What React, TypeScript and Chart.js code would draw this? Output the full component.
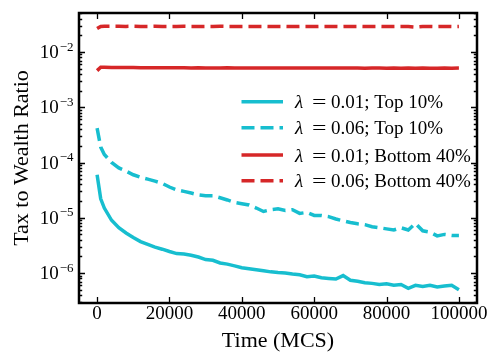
import React, { useEffect, useRef } from 'react';
import { Chart, registerables } from 'chart.js';

Chart.register(...registerables);

const FONT = '"Liberation Serif", "Times New Roman", Times, serif';

const timeSteps = [0, 1000, 2000, 4000, 6000, 8000, 10000, 12000, 14000, 16000, 18000, 20000, 22000, 24000, 26000, 28000, 30000, 32000, 34000, 36000, 38000, 40000, 42000, 44000, 46000, 48000, 50000, 52000, 54000, 56000, 58000, 60000, 62000, 64000, 66000, 68000, 70000, 72000, 74000, 76000, 78000, 80000, 82000, 84000, 86000, 88000, 90000, 92000, 94000, 96000, 98000, 100000];

const top10Lambda001 = [6.0e-5, 2.2e-5, 1.5e-5, 9.0e-6, 6.6e-6, 5.3e-6, 4.4e-6, 3.7e-6, 3.3e-6, 2.95e-6, 2.7e-6, 2.45e-6, 2.25e-6, 2.2e-6, 2.1e-6, 1.95e-6, 1.75e-6, 1.7e-6, 1.52e-6, 1.45e-6, 1.35e-6, 1.25e-6, 1.2e-6, 1.15e-6, 1.1e-6, 1.05e-6, 1.02e-6, 1.0e-6, 0.96e-6, 0.93e-6, 0.86e-6, 0.88e-6, 0.82e-6, 0.8e-6, 0.78e-6, 0.9e-6, 0.74e-6, 0.71e-6, 0.67e-6, 0.65e-6, 0.62e-6, 0.64e-6, 0.6e-6, 0.62e-6, 0.53e-6, 0.6e-6, 0.57e-6, 0.6e-6, 0.56e-6, 0.58e-6, 0.6e-6, 0.5e-6];

const top10Lambda006 = [4.2e-4, 1.9e-4, 1.4e-4, 1.0e-4, 8.0e-5, 7.0e-5, 6.0e-5, 5.4e-5, 5.0e-5, 4.6e-5, 4.2e-5, 3.6e-5, 3.2e-5, 3.0e-5, 2.8e-5, 2.6e-5, 2.5e-5, 2.5e-5, 2.3e-5, 2.1e-5, 1.9e-5, 1.8e-5, 1.7e-5, 1.5e-5, 1.3e-5, 1.4e-5, 1.45e-5, 1.35e-5, 1.4e-5, 1.2e-5, 1.25e-5, 1.1e-5, 1.1e-5, 1.05e-5, 9.5e-6, 8.8e-6, 8.2e-6, 7.8e-6, 7.5e-6, 6.9e-6, 6.6e-6, 6.3e-6, 6.0e-6, 6.6e-6, 6.0e-6, 7.9e-6, 5.8e-6, 5.5e-6, 4.7e-6, 5.0e-6, 4.8e-6, 4.8e-6];

const bottom40Lambda001 = [4.6e-3, 5.3e-3, 5.28e-3, 5.25e-3, 5.25e-3, 5.22e-3, 5.22e-3, 5.2e-3, 5.2e-3, 5.2e-3, 5.18e-3, 5.18e-3, 5.2e-3, 5.18e-3, 5.15e-3, 5.18e-3, 5.15e-3, 5.15e-3, 5.15e-3, 5.18e-3, 5.15e-3, 5.15e-3, 5.15e-3, 5.15e-3, 5.12e-3, 5.15e-3, 5.15e-3, 5.12e-3, 5.15e-3, 5.12e-3, 5.12e-3, 5.15e-3, 5.12e-3, 5.12e-3, 5.12e-3, 5.15e-3, 5.12e-3, 5.12e-3, 5.1e-3, 5.12e-3, 5.12e-3, 5.1e-3, 5.12e-3, 5.1e-3, 5.12e-3, 5.1e-3, 5.12e-3, 5.1e-3, 5.1e-3, 5.12e-3, 5.1e-3, 5.12e-3];

const bottom40Lambda006 = [2.65e-2, 2.9e-2, 2.92e-2, 2.92e-2, 2.92e-2, 2.9e-2, 2.92e-2, 2.9e-2, 2.9e-2, 2.92e-2, 2.9e-2, 2.9e-2, 2.9e-2, 2.92e-2, 2.9e-2, 2.9e-2, 2.9e-2, 2.9e-2, 2.92e-2, 2.9e-2, 2.9e-2, 2.9e-2, 2.9e-2, 2.9e-2, 2.9e-2, 2.88e-2, 2.9e-2, 2.9e-2, 2.88e-2, 2.9e-2, 2.9e-2, 2.88e-2, 2.9e-2, 2.9e-2, 2.9e-2, 2.88e-2, 2.9e-2, 2.9e-2, 2.88e-2, 2.9e-2, 2.9e-2, 2.88e-2, 2.9e-2, 2.9e-2, 2.88e-2, 2.82e-2, 2.9e-2, 2.9e-2, 2.88e-2, 2.9e-2, 2.88e-2, 2.9e-2];

const xTickValues = [0, 20000, 40000, 60000, 80000, 100000];
const yTickExponents = [-6, -5, -4, -3, -2];

const lambdaValues = ['0.01', '0.06', '0.01', '0.06'];
const groupNames = ['Top 10%', 'Top 10%', 'Bottom 40%', 'Bottom 40%'];
const seriesColors = ['#17becf', '#17becf', '#d62728', '#d62728'];
const seriesDashed = [false, true, false, true];
const seriesValues = [top10Lambda001, top10Lambda006, bottom40Lambda001, bottom40Lambda006];

const X_MIN = -5000;
const X_MAX = 105000;
const Y_MIN = 2.87e-7;
const Y_MAX = 5.07e-2;

const DASH = [13, 6];
const LINE_W = 3.5;

const axesPlugin = {
  id: 'mplAxes',
  afterDraw(chart: any) {
    const { ctx, chartArea: a, scales } = chart;
    const xs = scales.x;
    const ys = scales.y;
    ctx.save();
    ctx.strokeStyle = '#000';
    ctx.fillStyle = '#000';

    // x ticks (inward, top and bottom)
    ctx.lineWidth = 1.3;
    ctx.beginPath();
    for (const v of xTickValues) {
      const px = Math.round(xs.getPixelForValue(v)) + 0.5;
      ctx.moveTo(px, a.bottom);
      ctx.lineTo(px, a.bottom - 6);
      ctx.moveTo(px, a.top);
      ctx.lineTo(px, a.top + 6);
    }
    // y ticks, major + minor (inward, left and right)
    for (let d = -8; d <= 0; d++) {
      for (let m = 1; m <= 9; m++) {
        const v = m * Math.pow(10, d);
        if (v < Y_MIN || v > Y_MAX) continue;
        const py = Math.round(ys.getPixelForValue(v)) + 0.5;
        const len = m === 1 ? 6 : 3.2;
        ctx.moveTo(a.left, py);
        ctx.lineTo(a.left + len, py);
        ctx.moveTo(a.right, py);
        ctx.lineTo(a.right - len, py);
      }
    }
    ctx.stroke();

    // frame
    ctx.lineWidth = 2.5;
    ctx.strokeRect(a.left, a.top, a.right - a.left, a.bottom - a.top);

    // x tick labels
    ctx.font = `19px ${FONT}`;
    ctx.textAlign = 'center';
    ctx.textBaseline = 'alphabetic';
    for (const v of xTickValues) {
      const px = xs.getPixelForValue(v);
      ctx.fillText(String(v), px, a.bottom + 15.5);
    }

    // y tick labels 10^n
    ctx.textAlign = 'left';
    for (const e of yTickExponents) {
      const py = ys.getPixelForValue(Math.pow(10, e));
      const sup = '\u2212' + Math.abs(e);
      ctx.font = `13px ${FONT}`;
      const w2 = ctx.measureText(sup).width;
      ctx.font = `19px ${FONT}`;
      const w1 = ctx.measureText('10').width;
      const right = a.left - 5.5;
      ctx.fillText('10', right - w2 - w1 - 1, py + 6);
      ctx.font = `13px ${FONT}`;
      ctx.fillText(sup, right - w2, py - 1.3);
    }

    // axis titles
    ctx.font = `22px ${FONT}`;
    ctx.textAlign = 'center';
    ctx.fillText('Time (MCS)', (a.left + a.right) / 2, a.bottom + 43.5);
    ctx.save();
    ctx.translate(19.5, (a.top + a.bottom) / 2);
    ctx.rotate(-Math.PI / 2);
    ctx.fillText('Tax to Wealth Ratio', 0, 0);
    ctx.restore();

    // legend
    const lx0 = 233.5;
    const lx1 = 275;
    const tx = 287;
    const rowY = [93.7, 119.7, 147, 172.7];
    ctx.textAlign = 'left';
    for (let i = 0; i < lambdaValues.length; i++) {
      const y = rowY[i];
      ctx.strokeStyle = seriesColors[i];
      ctx.lineWidth = LINE_W;
      ctx.setLineDash(seriesDashed[i] ? DASH : []);
      ctx.beginPath();
      ctx.moveTo(lx0, y);
      ctx.lineTo(lx1, y);
      ctx.stroke();
      ctx.setLineDash([]);
      ctx.fillStyle = '#000';
      const base = y + 6.5;
      ctx.font = `italic 19px ${FONT}`;
      ctx.fillText('\u03bb', tx, base);
      ctx.font = `19px ${FONT}`;
      ctx.save();
      ctx.translate(tx + 17, base);
      ctx.scale(1.35, 1);
      ctx.fillText('=', 0, 0);
      ctx.restore();
      ctx.fillText(lambdaValues[i] + '; ' + groupNames[i], tx + 36, base);
    }
    ctx.restore();
  },
};

export default function App() {
  const canvasRef = useRef<HTMLCanvasElement | null>(null);

  useEffect(() => {
    const canvas = canvasRef.current;
    if (!canvas) return;
    const datasets = seriesValues.map((vals, i) => ({
      label: '\u03bb = ' + lambdaValues[i] + '; ' + groupNames[i],
      data: timeSteps.map((t, j) => ({ x: t, y: vals[j] })),
      borderColor: seriesColors[i],
      backgroundColor: seriesColors[i],
      borderWidth: LINE_W,
      borderDash: seriesDashed[i] ? DASH : [],
      pointRadius: 0,
      tension: 0,
      fill: false,
    }));
    const chart = new Chart(canvas, {
      type: 'line',
      data: { datasets },
      options: {
        animation: false,
        responsive: false,
        maintainAspectRatio: false,
        layout: { padding: { left: 71, right: 13, top: 5, bottom: 51 } },
        plugins: { legend: { display: false }, tooltip: { enabled: false } },
        scales: {
          x: { type: 'linear', min: X_MIN, max: X_MAX, display: false },
          y: { type: 'logarithmic', min: Y_MIN, max: Y_MAX, display: false },
        },
      },
      plugins: [axesPlugin],
    } as any);
    return () => chart.destroy();
  }, []);

  return (
    <div style={{ width: 482, height: 346 }}>
      <canvas ref={canvasRef} width={482} height={346} style={{ display: 'block' }} />
    </div>
  );
}
